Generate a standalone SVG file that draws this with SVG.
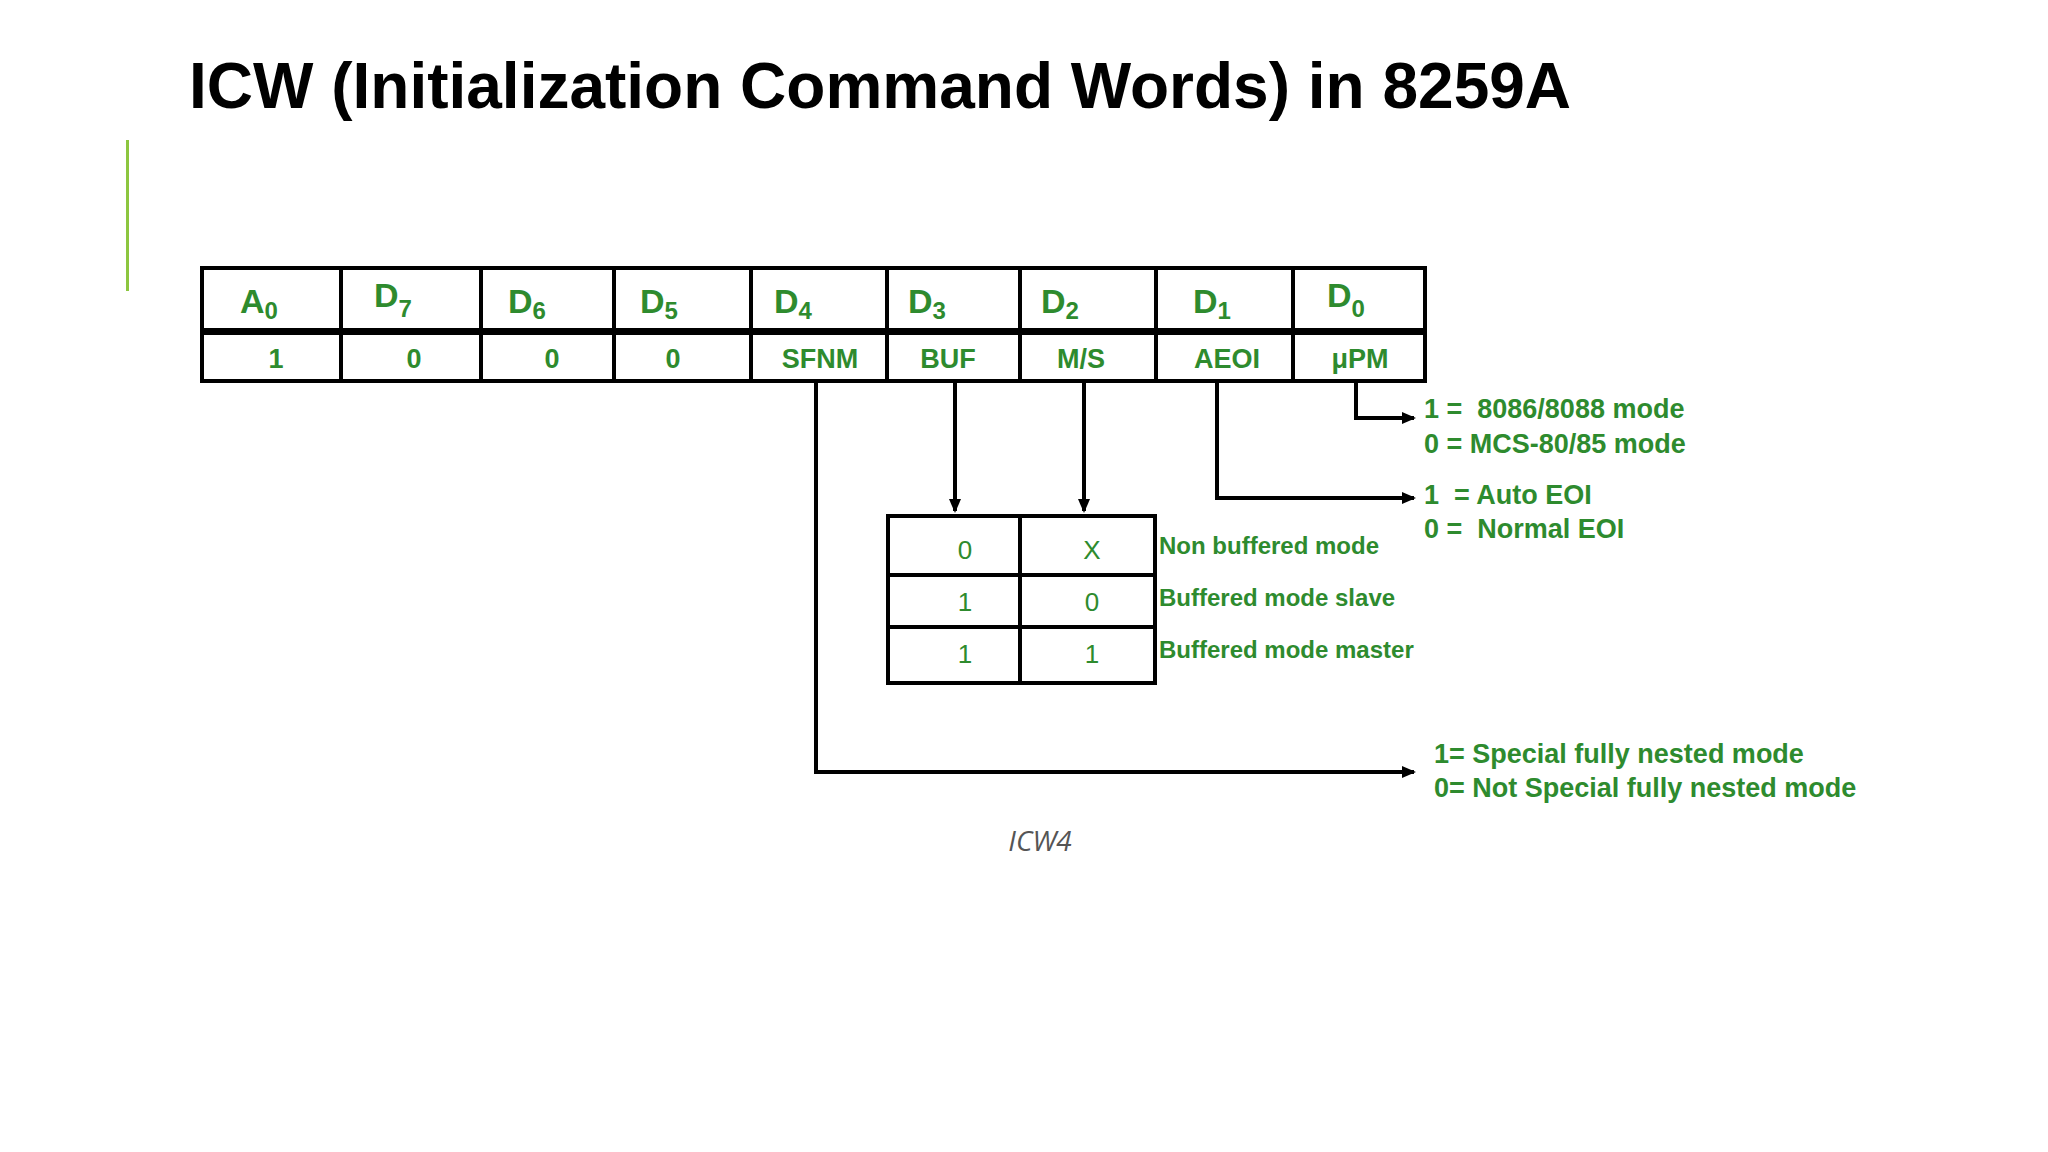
<svg xmlns="http://www.w3.org/2000/svg" width="2048" height="1152" viewBox="0 0 2048 1152">
<defs>
<marker id="ah" markerWidth="14" markerHeight="12" refX="12" refY="6" orient="auto" markerUnits="userSpaceOnUse"><path d="M0,0 L14,6 L0,12 Z" fill="#000"/></marker>
<style>
.g{fill:#2e8b2e;font-family:"Liberation Sans",Arial,sans-serif;font-weight:bold}
.h{font-size:34px}
.b{font-size:27px;text-anchor:middle}
.v{fill:#2e8b2e;font-family:"Liberation Sans",Arial,sans-serif;font-size:26px;text-anchor:middle}
.l{font-size:24px}
.r{font-size:27px}
.ln{stroke:#000;stroke-width:4;fill:none}
.cell{fill:#fff;stroke:#000;stroke-width:4}
</style>
</defs>
<rect width="2048" height="1152" fill="#fff"/>
<text x="189" y="108" font-family="Liberation Sans,Arial,sans-serif" font-weight="bold" font-size="64" fill="#000">ICW (Initialization Command Words) in 8259A</text>
<rect x="126" y="140" width="3" height="151" fill="#8cc63f"/>
<g id="table">
<rect class="cell" x="202" y="268" width="1223" height="113" stroke-width="5"/>
<rect x="202" y="328" width="1223" height="7" fill="#000"/>
<path class="ln" d="M341,268V381M481,268V381M614,268V381M751,268V381M887,268V381M1020,268V381M1156,268V381M1293,268V381"/>
<text class="g h" x="240" y="313">A<tspan font-size="24" dy="6">0</tspan></text>
<text class="g h" x="374" y="307">D<tspan font-size="24" dy="10">7</tspan></text>
<text class="g h" x="508" y="313">D<tspan font-size="24" dy="6">6</tspan></text>
<text class="g h" x="640" y="313">D<tspan font-size="24" dy="6">5</tspan></text>
<text class="g h" x="774" y="313">D<tspan font-size="24" dy="6">4</tspan></text>
<text class="g h" x="908" y="313">D<tspan font-size="24" dy="6">3</tspan></text>
<text class="g h" x="1041" y="313">D<tspan font-size="24" dy="6">2</tspan></text>
<text class="g h" x="1193" y="313">D<tspan font-size="24" dy="6">1</tspan></text>
<text class="g h" x="1327" y="307">D<tspan font-size="24" dy="10">0</tspan></text>
<text class="g b" x="276" y="368">1</text>
<text class="g b" x="414" y="368">0</text>
<text class="g b" x="552" y="368">0</text>
<text class="g b" x="673" y="368">0</text>
<text class="g b" x="820" y="368">SFNM</text>
<text class="g b" x="948" y="368">BUF</text>
<text class="g b" x="1081" y="368">M/S</text>
<text class="g b" x="1227" y="368">AEOI</text>
<text class="g b" x="1360" y="368">μPM</text>
</g>
<g id="buftable">
<rect class="cell" x="888" y="516" width="267" height="167"/>
<path class="ln" d="M888,575H1155M888,627H1155M1020,516V683"/>
<text class="v" x="965" y="559">0</text><text class="v" x="1092" y="559">X</text>
<text class="v" x="965" y="611">1</text><text class="v" x="1092" y="611">0</text>
<text class="v" x="965" y="663">1</text><text class="v" x="1092" y="663">1</text>
<text class="g l" x="1159" y="554">Non buffered mode</text>
<text class="g l" x="1159" y="606">Buffered mode slave</text>
<text class="g l" x="1159" y="658">Buffered mode master</text>
</g>
<g id="connectors">
<path class="ln" d="M816,381V772H1414" marker-end="url(#ah)"/>
<path class="ln" d="M955,381V511" marker-end="url(#ah)" stroke-width="3"/>
<path class="ln" d="M1084,381V511" marker-end="url(#ah)" stroke-width="3"/>
<path class="ln" d="M1217,381V498H1414" marker-end="url(#ah)"/>
<path class="ln" d="M1356,381V418H1414" marker-end="url(#ah)"/>
</g>
<g id="labels">
<text class="g r" x="1424" y="418" xml:space="preserve">1 =  8086/8088 mode</text>
<text class="g r" x="1424" y="453">0 = MCS-80/85 mode</text>
<text class="g r" x="1424" y="504" xml:space="preserve">1  = Auto EOI</text>
<text class="g r" x="1424" y="538" xml:space="preserve">0 =  Normal EOI</text>
<text class="g r" x="1434" y="763">1= Special fully nested mode</text>
<text class="g r" x="1434" y="797">0= Not Special fully nested mode</text>
</g>
<text x="1040" y="851" text-anchor="middle" font-family="Open Sans,Liberation Sans,sans-serif" font-style="italic" font-size="28" fill="#555">ICW4</text>
</svg>
